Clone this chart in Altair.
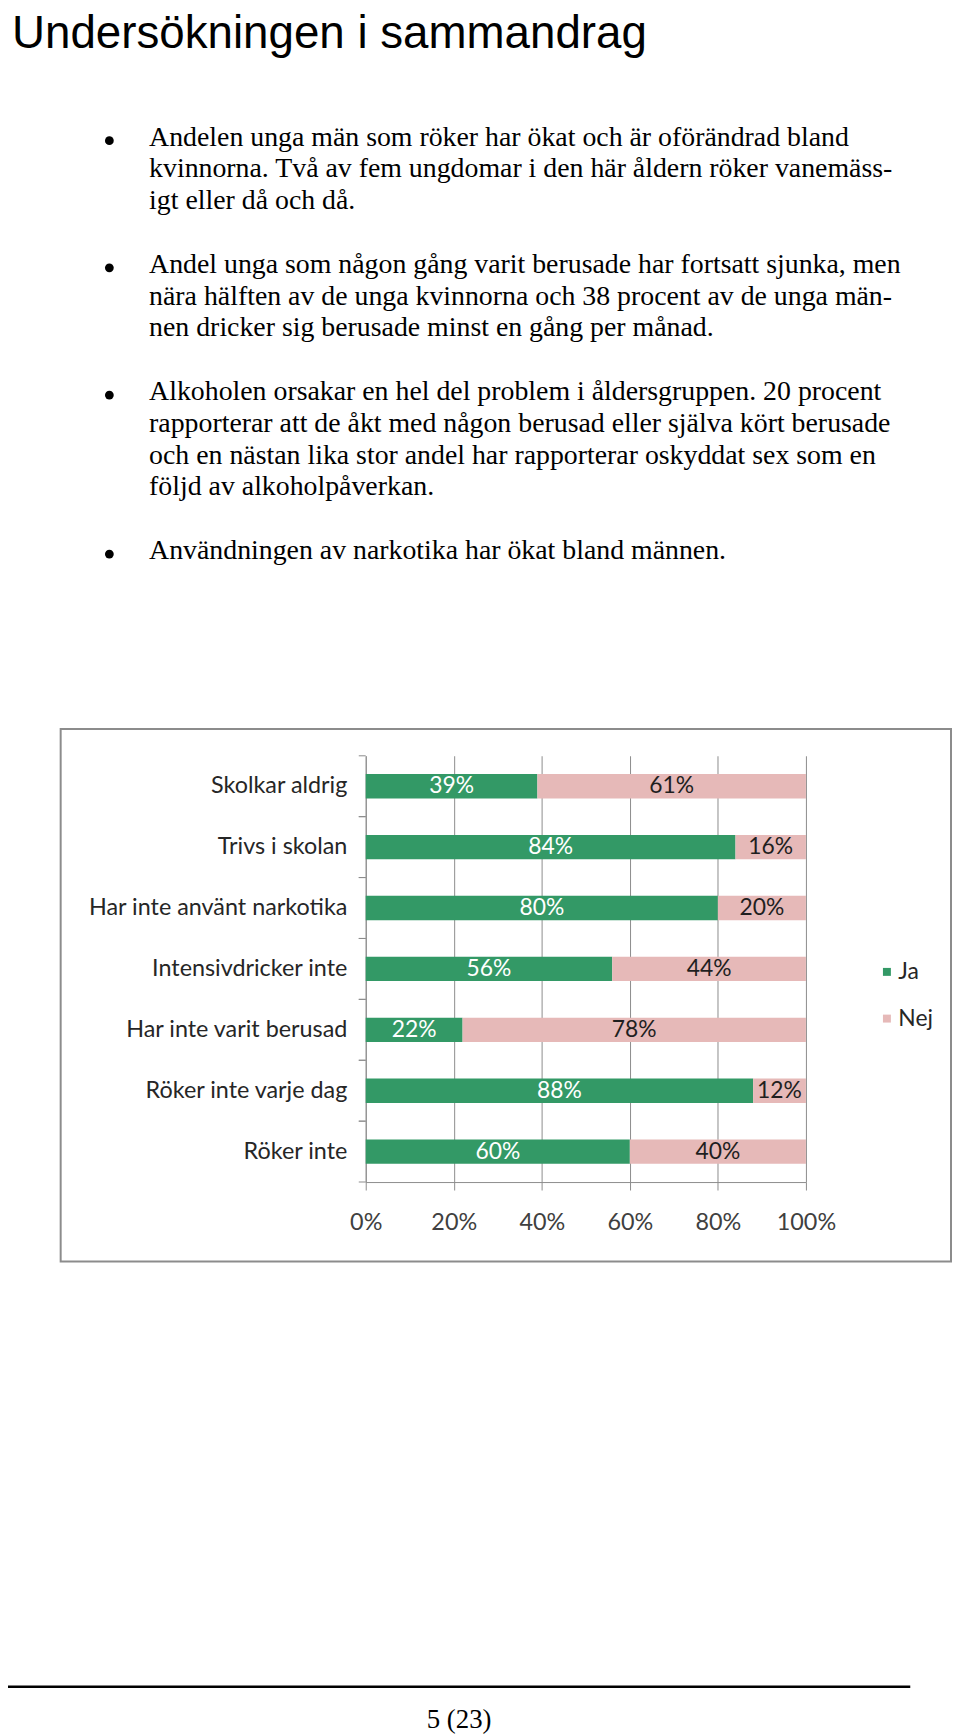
import altair as alt
import pandas as pd

# ---------------- data ----------------
title_text = "Undersökningen i sammandrag"
paragraphs = [
    ["Andelen unga män som röker har ökat och är oförändrad bland",
     "kvinnorna. Två av fem ungdomar i den här åldern röker vanemäss-",
     "igt eller då och då."],
    ["Andel unga som någon gång varit berusade har fortsatt sjunka, men",
     "nära hälften av de unga kvinnorna och 38 procent av de unga män-",
     "nen dricker sig berusade minst en gång per månad."],
    ["Alkoholen orsakar en hel del problem i åldersgruppen. 20 procent",
     "rapporterar att de åkt med någon berusad eller själva kört berusade",
     "och en nästan lika stor andel har rapporterar oskyddat sex som en",
     "följd av alkoholpåverkan."],
    ["Användningen av narkotika har ökat bland männen."],
]
footer_text = "5 (23)"

categories = [
    "Skolkar aldrig",
    "Trivs i skolan",
    "Har inte använt narkotika",
    "Intensivdricker inte",
    "Har inte varit berusad",
    "Röker inte varje dag",
    "Röker inte",
]
ja_values = [39, 84, 80, 56, 22, 88, 60]
nej_values = [61, 16, 20, 44, 78, 12, 40]
answers = ["Ja", "Nej"]
x_ticks = [0, 0.2, 0.4, 0.6, 0.8, 1.0]

rows = []
for c, j, n in zip(categories, ja_values, nej_values):
    rows.append({"cat": c, "ans": "Ja", "val": j / 100, "ord": 0})
    rows.append({"cat": c, "ans": "Nej", "val": n / 100, "ord": 1})
df = pd.DataFrame(rows)
cat_df = pd.DataFrame({"cat": categories})
one = pd.DataFrame({"i": [0]})

GREEN = "#339966"
PINK = "#E6B9B8"
GRAY = "#8c8c8c"
CFONT = "Lato"

# ---------------- scales / axes ----------------
y_scale = alt.Scale(domain=categories, paddingInner=0.6, paddingOuter=0.3)
y_axis = alt.Axis(title=None, ticks=False, grid=False, labelFont=CFONT,
                  labelFontSize=23.5, labelColor="#262626", labelPadding=19,
                  domainColor=GRAY, labelLimit=400)
x_scale = alt.Scale(domain=[0, 1], nice=False)
x_axis = alt.Axis(title=None, format=".0%", values=x_ticks, grid=True,
                  gridColor=GRAY, tickColor=GRAY, tickSize=8, domainColor=GRAY,
                  labelFont=CFONT, labelFontSize=23.5, labelColor="#404040",
                  labelPadding=33, labelBaseline="middle", labelFlush=False)

Y = alt.Y("cat:N", sort=categories, scale=y_scale, axis=y_axis)

stacked = alt.Chart(df).transform_stack(
    stack="val", groupby=["cat"], as_=["v0", "v1"],
    sort=[alt.SortField("ord", order="ascending")]
).transform_calculate(
    mid="(datum.v0 + datum.v1) / 2",
    lab="format(datum.val, '.0%')"
)

bars = stacked.mark_bar().encode(
    y=Y,
    x=alt.X("v0:Q", scale=x_scale, axis=x_axis),
    x2="v1:Q",
    color=alt.Color("ans:N", scale=alt.Scale(domain=answers, range=[GREEN, PINK]),
                    legend=alt.Legend(orient="none", legendX=513, legendY=206,
                                      title=None, symbolType="square", symbolSize=64,
                                      symbolStrokeWidth=0, labelFont=CFONT,
                                      labelFontSize=23, labelColor="#262626",
                                      rowPadding=23, labelOffset=0, padding=0)),
)

labels = stacked.mark_text(font=CFONT, fontSize=23, baseline="middle").encode(
    y=Y,
    x=alt.X("mid:Q", scale=x_scale, axis=x_axis),
    text="lab:N",
    color=alt.condition("datum.ans == 'Ja'", alt.value("white"), alt.value("#1f1f1f")),
)

ticks_top = alt.Chart(cat_df).mark_rule(color=GRAY, yOffset=-30.6).encode(
    y=Y, x=alt.value(-7), x2=alt.value(0))
ticks_bot = alt.Chart(cat_df).mark_rule(color=GRAY, yOffset=30.6).encode(
    y=Y, x=alt.value(-7), x2=alt.value(0))

# ---------------- page decorations ----------------
box = alt.Chart(one).mark_rect(fillOpacity=0, stroke=GRAY, strokeWidth=2).encode(
    x=alt.value(-307), x2=alt.value(589), y=alt.value(-27), y2=alt.value(509))

title = alt.Chart(one).mark_text(font="Liberation Sans", fontSize=46, align="left",
                                 baseline="alphabetic", color="black").encode(
    text=alt.value(title_text), x=alt.value(-356), y=alt.value(-712))

layers = [box, bars, labels, ticks_top, ticks_bot, title]

LINE = 32
first_base = 141 - 755
k = 0
for para in paragraphs:
    yb = first_base + LINE * k
    layers.append(
        alt.Chart(one).mark_text(font="Liberation Serif", fontSize=28, align="left",
                                 baseline="alphabetic", lineHeight=LINE, color="black").encode(
            text=alt.value(para), x=alt.value(-218), y=alt.value(yb))
    )
    layers.append(
        alt.Chart(one).mark_circle(size=78, color="black", opacity=1).encode(
            x=alt.value(-258), y=alt.value(yb - 5))
    )
    k += len(para) + 1

footer_rule = alt.Chart(one).mark_rule(color="black", strokeWidth=2.5).encode(
    x=alt.value(-360), x2=alt.value(548), y=alt.value(937))

footer = alt.Chart(one).mark_text(font="Liberation Serif", fontSize=27, align="center",
                                  baseline="alphabetic", color="black").encode(
    text=alt.value(footer_text), x=alt.value(94), y=alt.value(978))

layers += [footer_rule, footer]

chart = alt.layer(*layers).properties(
    width=443, height=429,
    autosize=alt.AutoSizeParams(type="none"),
    padding={"left": 360, "top": 747, "right": 147, "bottom": 560},
    background="white",
).configure_view(stroke=None)

chart.save("out.html", embed_options={"renderer": "svg", "actions": False})
